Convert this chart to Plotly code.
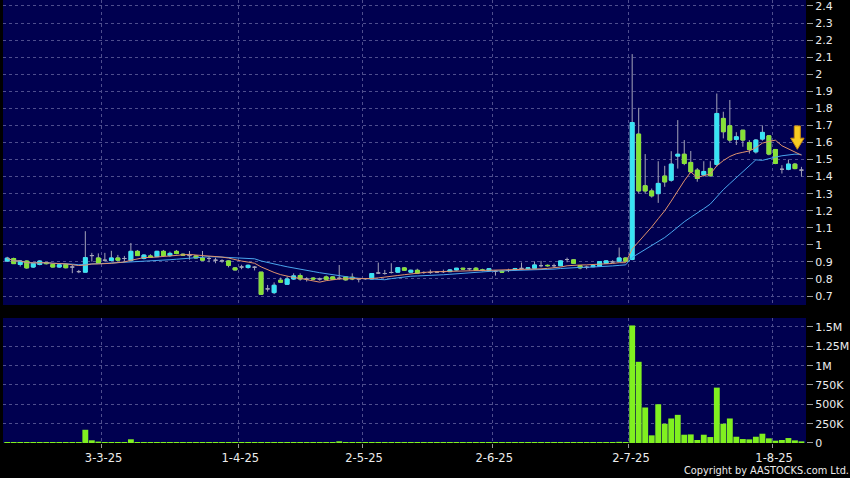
import pandas as pd
import plotly.graph_objects as go

# ---------------- data ----------------
holidays = ["2025-04-04", "2025-04-18", "2025-04-21", "2025-05-01", "2025-05-05", "2025-07-01"]
dates = [d.strftime("%Y-%m-%d") for d in pd.bdate_range("2025-02-10", "2025-08-07")
         if d.strftime("%Y-%m-%d") not in holidays]

opens = [
    0.905, 0.92, 0.885, 0.905, 0.87, 0.885, 0.896, 0.885, 0.87, 0.885,
    0.87, 0.843, 0.84, 0.937, 0.923, 0.91, 0.908, 0.923, 0.92, 0.908,
    0.962, 0.92, 0.935, 0.931, 0.962, 0.937, 0.962, 0.945, 0.937, 0.935,
    0.923, 0.92, 0.91, 0.906, 0.906, 0.865, 0.87, 0.867, 0.869, 0.84,
    0.742, 0.72, 0.793, 0.769, 0.80, 0.82, 0.80, 0.805, 0.80, 0.812,
    0.812, 0.804, 0.812, 0.81, 0.80, 0.802, 0.80, 0.835, 0.832, 0.838,
    0.84, 0.865, 0.84, 0.851, 0.838, 0.838, 0.84, 0.843, 0.843, 0.853,
    0.863, 0.86, 0.863, 0.853, 0.85, 0.845, 0.845, 0.85, 0.855, 0.862,
    0.86, 0.863, 0.878, 0.88, 0.878, 0.878, 0.914, 0.912, 0.878, 0.869,
    0.872, 0.873, 0.892, 0.90, 0.904, 0.923, 0.914, 1.649, 1.346, 1.316,
    1.30, 1.403, 1.379, 1.52, 1.531, 1.483, 1.438, 1.41, 1.448, 1.471,
    1.741, 1.698, 1.618, 1.672, 1.60, 1.545, 1.62, 1.639, 1.559, 1.443,
    1.443, 1.473, 1.438,
]
highs = [
    0.93, 0.925, 0.91, 0.908, 0.895, 0.91, 0.90, 0.89, 0.888, 0.89,
    0.883, 0.853, 1.08, 0.953, 0.95, 0.953, 0.965, 0.941, 0.935, 1.011,
    0.97, 0.945, 0.945, 0.965, 0.97, 0.96, 0.97, 0.95, 0.964, 0.94,
    0.964, 0.932, 0.925, 0.915, 0.91, 0.87, 0.883, 0.885, 0.875, 0.84,
    0.765, 0.78, 0.808, 0.815, 0.833, 0.833, 0.81, 0.81, 0.808, 0.82,
    0.815, 0.882, 0.815, 0.833, 0.805, 0.805, 0.835, 0.896, 0.853, 0.892,
    0.87, 0.87, 0.855, 0.86, 0.845, 0.855, 0.845, 0.855, 0.858, 0.865,
    0.865, 0.865, 0.87, 0.86, 0.862, 0.85, 0.85, 0.86, 0.865, 0.896,
    0.87, 0.903, 0.906, 0.885, 0.89, 0.91, 0.925, 0.915, 0.88, 0.878,
    0.88, 0.905, 0.91, 0.91, 0.984, 0.925, 2.118, 1.803, 1.532, 1.33,
    1.49, 1.463, 1.549, 1.731, 1.614, 1.55, 1.45, 1.49, 1.49, 1.887,
    1.78, 1.849, 1.66, 1.672, 1.614, 1.62, 1.70, 1.643, 1.559, 1.467,
    1.50, 1.48, 1.457,
]
lows = [
    0.90, 0.888, 0.873, 0.86, 0.865, 0.88, 0.885, 0.868, 0.865, 0.862,
    0.834, 0.834, 0.84, 0.902, 0.89, 0.902, 0.905, 0.905, 0.902, 0.905,
    0.935, 0.915, 0.925, 0.93, 0.93, 0.93, 0.945, 0.935, 0.913, 0.92,
    0.905, 0.898, 0.892, 0.895, 0.868, 0.85, 0.857, 0.86, 0.85, 0.71,
    0.726, 0.711, 0.778, 0.765, 0.795, 0.79, 0.785, 0.795, 0.79, 0.795,
    0.795, 0.795, 0.79, 0.793, 0.78, 0.795, 0.798, 0.83, 0.825, 0.832,
    0.838, 0.848, 0.838, 0.83, 0.83, 0.83, 0.835, 0.835, 0.84, 0.85,
    0.855, 0.85, 0.848, 0.845, 0.845, 0.82, 0.838, 0.84, 0.85, 0.855,
    0.855, 0.86, 0.868, 0.872, 0.865, 0.875, 0.898, 0.888, 0.857, 0.857,
    0.868, 0.87, 0.89, 0.893, 0.90, 0.90, 0.91, 1.30, 1.30, 1.277,
    1.246, 1.34, 1.37, 1.447, 1.467, 1.42, 1.37, 1.40, 1.40, 1.46,
    1.624, 1.60, 1.585, 1.575, 1.535, 1.535, 1.61, 1.525, 1.473, 1.418,
    1.437, 1.443, 1.40,
]
closes = [
    0.922, 0.89, 0.905, 0.865, 0.89, 0.905, 0.89, 0.87, 0.883, 0.866,
    0.87, 0.843, 0.925, 0.937, 0.892, 0.91, 0.923, 0.91, 0.92, 0.962,
    0.937, 0.94, 0.928, 0.962, 0.937, 0.95, 0.949, 0.94, 0.937, 0.923,
    0.91, 0.92, 0.91, 0.906, 0.88, 0.853, 0.87, 0.88, 0.869, 0.71,
    0.742, 0.763, 0.781, 0.80, 0.818, 0.80, 0.80, 0.80, 0.80, 0.798,
    0.798, 0.804, 0.795, 0.80, 0.80, 0.802, 0.832, 0.835, 0.832, 0.838,
    0.866, 0.851, 0.851, 0.834, 0.838, 0.838, 0.84, 0.843, 0.853, 0.863,
    0.858, 0.86, 0.851, 0.851, 0.86, 0.845, 0.84, 0.85, 0.86, 0.862,
    0.865, 0.882, 0.878, 0.878, 0.878, 0.906, 0.914, 0.892, 0.865, 0.869,
    0.878, 0.902, 0.906, 0.90, 0.923, 0.904, 1.717, 1.316, 1.316, 1.287,
    1.36, 1.369, 1.473, 1.531, 1.477, 1.428, 1.389, 1.43, 1.405, 1.77,
    1.663, 1.614, 1.633, 1.614, 1.559, 1.614, 1.659, 1.532, 1.477, 1.443,
    1.473, 1.447, 1.438,
]
volumes = [
    1000, 1000, 1000, 4000, 1000, 1000, 1000, 1000, 1000, 1000,
    4000, 1000, 171000, 35000, 18000, 13000, 13000, 9000, 9000, 48000,
    9000, 1000, 1000, 4000, 4000, 1000, 1000, 1000, 1000, 4000,
    13000, 1000, 1000, 1000, 1000, 1000, 1000, 1000, 1000, 6000,
    1000, 1000, 1000, 1000, 1000, 1000, 1000, 1000, 1000, 1000,
    1000, 22000, 1000, 1000, 1000, 1000, 5000, 13000, 1000, 13000,
    1000, 1000, 1000, 1000, 1000, 1000, 1000, 1000, 5000, 5000,
    1000, 1000, 1000, 1000, 1000, 1000, 1000, 1000, 1000, 5000,
    1000, 1000, 1000, 1000, 1000, 4000, 1000, 1000, 1000, 1000,
    1000, 1000, 1000, 1000, 15000, 1000, 1520000, 1050000, 459000, 99000,
    501000, 249000, 317000, 364000, 107000, 111000, 39000, 107000, 77000, 716000,
    249000, 317000, 81000, 51000, 47000, 81000, 120000, 60000, 30000, 39000,
    64000, 34000, 21000,
]

tick_dates = ["2025-03-03", "2025-04-01", "2025-05-02", "2025-06-02", "2025-07-02", "2025-08-01"]
tick_text = ["3-3-25", "1-4-25", "2-5-25", "2-6-25", "2-7-25", "1-8-25"]

price_ticks = [0.7, 0.8, 0.9, 1.0, 1.1, 1.2, 1.3, 1.4, 1.5, 1.6, 1.7, 1.8, 1.9,
               2.0, 2.1, 2.2, 2.3, 2.4]
price_tick_text = ["0.7", "0.8", "0.9", "1", "1.1", "1.2", "1.3", "1.4", "1.5", "1.6",
                   "1.7", "1.8", "1.9", "2", "2.1", "2.2", "2.3", "2.4"]
vol_ticks = [0, 250000, 500000, 750000, 1000000, 1250000, 1500000]
vol_tick_text = ["0", "250K", "500K", "750K", "1M", "1.25M", "1.5M"]

assert len(dates) == len(opens) == len(highs) == len(lows) == len(closes) == len(volumes)

# ---------------- derived ----------------
xs = list(range(len(dates)))
close_s = pd.Series(closes)
ma10 = close_s.rolling(10, min_periods=1).mean().tolist()
ma20 = close_s.rolling(20, min_periods=1).mean().tolist()
tickpos = [dates.index(d) - 0.5 for d in tick_dates]

# body-only trace (doji left to the grey trace)
b_open, b_high, b_low, b_close = [], [], [], []
for o, c in zip(opens, closes):
    if o == c:
        b_open.append(None); b_high.append(None); b_low.append(None); b_close.append(None)
    else:
        b_open.append(o); b_close.append(c); b_high.append(max(o, c)); b_low.append(min(o, c))

# ---------------- style ----------------
WICK = "#a4a4b8"
UP = "#38e4f4"
DOWN = "#86e236"
VOLC = "#80f020"
GRID = "#4e4e8e"
PANEL = "#000050"
TXT = "#ececec"
FONT = "DejaVu Sans"

fig = go.Figure()
fig.add_trace(go.Candlestick(
    x=xs, open=opens, high=highs, low=lows, close=closes,
    increasing=dict(line=dict(color=WICK, width=1), fillcolor=WICK),
    decreasing=dict(line=dict(color=WICK, width=1), fillcolor=WICK),
    whiskerwidth=0, showlegend=False, hoverinfo="skip", xaxis="x", yaxis="y"))
fig.add_trace(go.Candlestick(
    x=xs, open=b_open, high=b_high, low=b_low, close=b_close,
    increasing=dict(line=dict(color=UP, width=1), fillcolor=UP),
    decreasing=dict(line=dict(color=DOWN, width=1), fillcolor=DOWN),
    whiskerwidth=0, showlegend=False, hoverinfo="skip", xaxis="x", yaxis="y"))
fig.add_trace(go.Scatter(x=xs, y=ma20, mode="lines", line=dict(color="#4aa6ee", width=1),
                         showlegend=False, hoverinfo="skip", xaxis="x", yaxis="y"))
fig.add_trace(go.Scatter(x=xs, y=ma10, mode="lines", line=dict(color="#e0926c", width=1),
                         showlegend=False, hoverinfo="skip", xaxis="x", yaxis="y"))
fig.add_trace(go.Bar(x=xs, y=volumes, marker=dict(color=VOLC, line=dict(width=0)),
                     showlegend=False, hoverinfo="skip", xaxis="x2", yaxis="y2"))

# yellow down arrow marker near the last bars
ax0, ax1, ah0, ah1, axc = 120.9, 121.83, 120.35, 122.4, 121.37
ay_top, ay_mid, ay_tip = 1.697, 1.625, 1.56
arrow_path = (f"M {ax0},{ay_top} L {ax1},{ay_top} L {ax1},{ay_mid} L {ah1},{ay_mid} "
              f"L {axc},{ay_tip} L {ah0},{ay_mid} L {ax0},{ay_mid} Z")
fig.add_shape(type="path", path=arrow_path, xref="x", yref="y",
              fillcolor="#f8cc22", line=dict(color="#c88a10", width=1), layer="above")

xr = [-0.645, 122.7]
common_x = dict(range=xr, tickvals=tickpos, showgrid=True, gridcolor=GRID, griddash="3px,3px",
                gridwidth=1, zeroline=False, showline=False, fixedrange=True)
fig.update_layout(
    width=850, height=478,
    margin=dict(l=3, r=44, t=0, b=35, autoexpand=False),
    paper_bgcolor="#000000", plot_bgcolor=PANEL,
    font=dict(family=FONT, color=TXT, size=11),
    boxgap=0.16, bargap=0.1,
    xaxis=dict(domain=[0, 1], anchor="y", showticklabels=False, ticks="",
               rangeslider=dict(visible=False), **common_x),
    xaxis2=dict(domain=[0, 1], anchor="y2", matches="x", ticktext=tick_text,
                ticks="outside", ticklen=4, tickcolor="#9a9a9a", tickwidth=1,
                ticklabelshift=2, ticklabeloverflow="allow",
                tickfont=dict(family=FONT, size=11.5, color=TXT), **common_x),
    yaxis=dict(domain=[0.3115, 1], side="right", range=[0.6474, 2.435],
               tickvals=price_ticks, ticktext=price_tick_text, ticklabeloverflow="allow",
               showgrid=True, gridcolor=GRID, griddash="3px,3px", zeroline=False,
               ticks="outside", ticklen=6, tickcolor="#9a9a9a",
               tickfont=dict(family=FONT, size=11, color=TXT)),
    yaxis2=dict(domain=[0, 0.2822], side="right", range=[0, 1616400],
                tickvals=vol_ticks, ticktext=vol_tick_text, ticklabeloverflow="allow",
                showgrid=True, gridcolor=GRID, griddash="3px,3px", zeroline=False,
                ticks="outside", ticklen=6, tickcolor="#9a9a9a",
                tickfont=dict(family=FONT, size=11, color=TXT)),
)
fig.add_annotation(text="Copyright by AASTOCKS.com Ltd.", xref="paper", yref="paper",
                   x=1.0561, y=-0.061, xanchor="right", yanchor="middle", showarrow=False,
                   font=dict(family=FONT, size=9.8, color=TXT))

fig.write_html("out.html", config={"displayModeBar": False},
               post_script="document.body.style.margin='0px';")
